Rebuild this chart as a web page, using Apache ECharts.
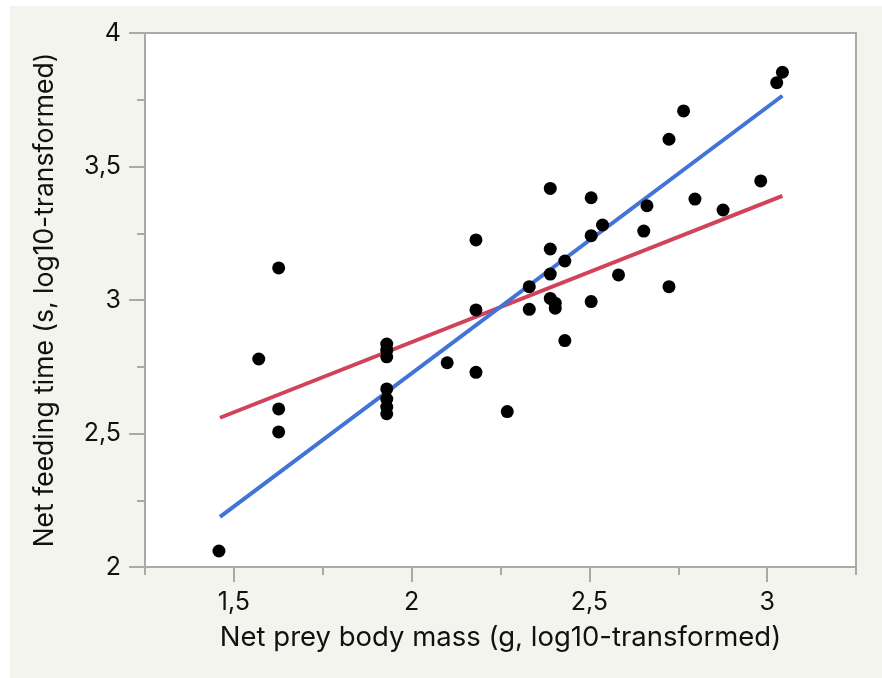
<!DOCTYPE html>
<html>
<head>
<meta charset="utf-8">
<script src="https://cdn.jsdelivr.net/npm/echarts@6/dist/echarts.min.js"></script>
<style>
html,body{margin:0;padding:0;background:#fff;}
#chart{width:882px;height:678px;}
</style>
</head>
<body>
<div id="chart"></div>
<script>
// Data points (net prey body mass, net feeding time), log10-transformed
const massValues = [1.458,1.570,1.626,1.626,1.626,1.930,1.930,1.930,1.930,1.930,1.930,1.930,
  2.100,2.181,2.181,2.181,2.269,2.331,2.331,2.390,2.390,2.390,2.390,2.404,2.404,2.431,2.431,
  2.505,2.505,2.505,2.537,2.582,2.653,2.662,2.724,2.724,2.765,2.797,2.876,2.982,3.027,3.043];
const timeValues = [2.060,2.779,3.120,2.592,2.506,2.835,2.812,2.787,2.667,2.629,2.599,2.574,
  2.765,2.963,2.729,3.225,2.582,3.050,2.965,3.418,3.191,3.097,3.006,2.988,2.969,3.146,2.848,
  3.383,3.241,2.994,3.281,3.094,3.258,3.353,3.602,3.050,3.708,3.378,3.337,3.446,3.814,3.853];
// Fitted lines (endpoints)
const blueLineX = [1.461, 3.043];
const blueLineY = [2.188, 3.765];
const redLineX = [1.461, 3.043];
const redLineY = [2.559, 3.390];
// Tick labels
const xMajorTicks = [1.5, 2, 2.5, 3];
const xMinorTicks = [1.25, 1.5, 1.75, 2, 2.25, 2.5, 2.75, 3, 3.25];
const yMajorTicks = [2, 2.5, 3, 3.5, 4];

const fmt = v => String(v).replace('.', ',');
const font = 'Inter, Liberation Sans, Arial, sans-serif';
const gray = '#a9a9a9';

const chart = echarts.init(document.getElementById('chart'));
chart.setOption({
  backgroundColor: '#f4f4ef',
  animation: false,
  graphic: [
    {type:'rect', left:0, top:0, shape:{width:10, height:678}, style:{fill:'#ffffff'}, z:-1},
    {type:'rect', left:0, top:0, shape:{width:882, height:6}, style:{fill:'#ffffff'}, z:-1}
  ],
  grid: {left:145, top:33, right:26, bottom:111, show:true, backgroundColor:'#ffffff',
         borderColor: gray, borderWidth: 2},
  xAxis: [
    {type:'value', min:1.25, max:3.25, interval:0.25,
     axisLine:{show:true, lineStyle:{color:gray, width:2}},
     axisTick:{show:true, length:8, lineStyle:{color:gray, width:2}, customValues: xMinorTicks},
     axisLabel:{show:false}, splitLine:{show:false}},
    {type:'value', min:1.25, max:3.25, position:'bottom',
     axisLine:{show:false},
     axisTick:{show:true, length:15, lineStyle:{color:gray, width:2}, customValues: xMajorTicks},
     axisLabel:{show:true, customValues: xMajorTicks, formatter: fmt, margin:23,
                fontSize:25, color:'#111', fontFamily: font},
     splitLine:{show:false},
     name:'Net prey body mass (g, log10-transformed)', nameLocation:'middle', nameGap:57,
     nameTextStyle:{fontSize:27.5, color:'#111', fontFamily: font}}
  ],
  yAxis: [
    {type:'value', min:2, max:4, interval:0.5,
     axisLine:{show:true, lineStyle:{color:gray, width:2}},
     axisTick:{show:true, length:16, lineStyle:{color:gray, width:2}},
     minorTick:{show:true, splitNumber:2, length:8, lineStyle:{color:gray, width:2}},
     axisLabel:{formatter: fmt, margin:24, fontSize:25, color:'#111', fontFamily: font},
     splitLine:{show:false},
     name:'Net feeding time (s, log10-transformed)', nameLocation:'middle', nameGap:86,
     nameTextStyle:{fontSize:26.5, color:'#111', fontFamily: font}}
  ],
  series: [
    {type:'line', xAxisIndex:0, data: redLineX.map((x,i)=>[x, redLineY[i]]), symbol:'none',
     lineStyle:{color:'#d1435b', width:4}, z:2},
    {type:'line', xAxisIndex:0, data: blueLineX.map((x,i)=>[x, blueLineY[i]]), symbol:'none',
     lineStyle:{color:'#4173d8', width:4}, z:3},
    {type:'scatter', xAxisIndex:0, data: massValues.map((x,i)=>[x, timeValues[i]]),
     symbolSize:13, itemStyle:{color:'#000000', opacity:1}, z:4}
  ]
});
</script>
</body>
</html>
